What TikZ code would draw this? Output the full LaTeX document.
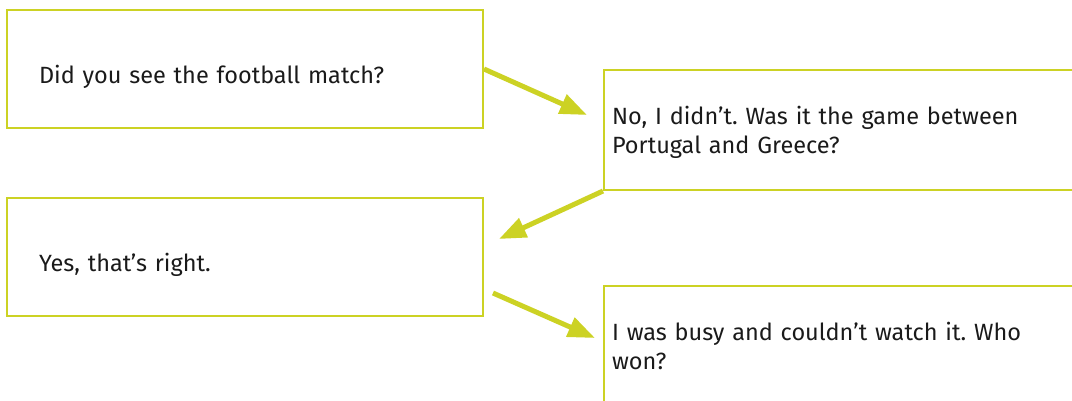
\documentclass[tikz,border=0pt]{standalone}
\usepackage{fontspec}
\setmainfont{Fira Sans}
\usetikzlibrary{calc,arrows.meta}
\definecolor{mylime}{RGB}{204,210,36}
\definecolor{mytext}{RGB}{26,26,26}
\frenchspacing
\tikzset{
  msgbox/.style={draw=mylime, line width=2pt, rectangle, anchor=north west,
    align=left, text=mytext, font=\fontsize{23.5}{29}\selectfont},
  leftbox/.style={msgbox, minimum width=476pt, minimum height=118pt,
    inner xsep=32pt, text width=412pt, text height=34pt, text depth=6pt},
  rightbox/.style={msgbox, minimum width=482pt, minimum height=120pt,
    inner xsep=8pt, text width=466pt, text height=24pt, text depth=35pt},
  talk/.style={draw=mylime, line width=5pt, -{Triangle[length=27pt,width=20pt]}}
}
\begin{document}
\begin{tikzpicture}[x=1pt,y=-1pt]
  \useasboundingbox (0,0) rectangle (1072,400);
  \clip (0,0) rectangle (1072,400);

  % Speech boxes
  \node[leftbox] (b1) at (6,9) {Did you see the football match?};
  \node[rightbox] (b2) at (603,69) {No, I didn’t. Was it the game between\\Portugal and Greece?};
  \node[leftbox] (b3) at (6,197) {Yes, that’s right.};
  \node[rightbox] (b4) at (603,285) {I was busy and couldn’t watch it. Who\\won?};

  % Turns
  \draw[talk] (b1.east) -- ($(b2.west)+(-16,-15)$);
  \draw[talk] (b2.south west) -- ($(b3.east)+(15,-18)$);
  \draw[talk] ($(b3.south east)+(9,-24)$) -- ($(b4.west)+(-8,-8)$);
\end{tikzpicture}
\end{document}
